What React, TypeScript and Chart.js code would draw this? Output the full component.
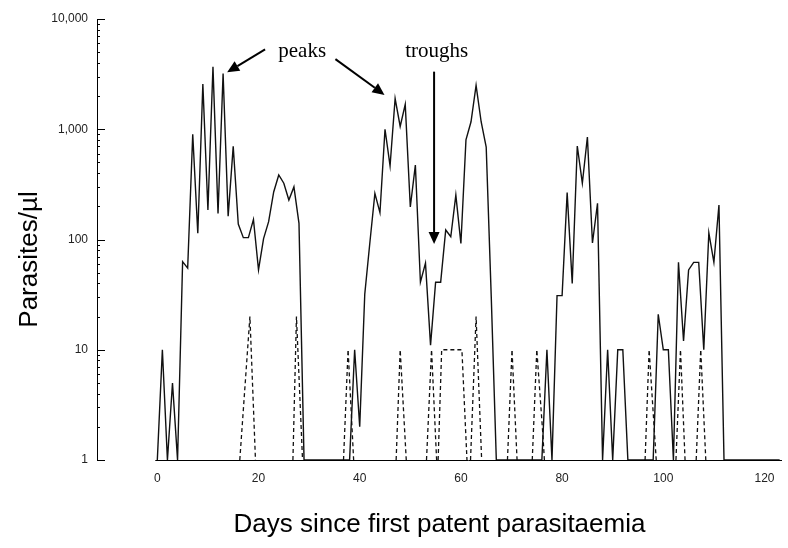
import React, { useEffect, useRef } from 'react';
import { Chart, registerables } from 'chart.js';

Chart.register(...registerables);

// Asexual parasites per µl, one value per day (index = day since first patent parasitaemia)
const solidValues: number[] = [
  1, 10, 1, 5, 1, 63, 55, 900, 114, 2570,
  185, 3690, 172, 3200, 163, 700, 138, 104, 104, 152,
  53, 102, 145, 270, 385, 324, 228, 300, 140, 1,
  1, 1, 1, 1, 1, 1, 1, 1, 1, 10,
  2, 32, 93, 262, 175, 1000, 465, 1900, 1060, 1680,
  197, 473, 41, 61, 11, 41, 41, 122, 106, 253,
  92, 800, 1170, 2500, 1170, 690, 30, 1, 1, 1,
  1, 1, 1, 1, 1, 1, 1, 10, 1, 31,
  31, 266, 40, 705, 324, 850, 93, 213, 1, 10,
  1, 10, 10, 1, 1, 1, 1, 1, 1, 21,
  10, 10, 1, 62, 12, 53, 62, 62, 10, 115,
  62, 205, 1, 1, 1, 1, 1, 1, 1, 1,
  1, 1, 1, 1,
];

// Gametocytes (dashed), episodes separated by null
const dashedDays: number[] = [
  16.3, 18.3, 19.4, 19.5,
  26.8, 27.5, 28.7, 28.8,
  36.8, 37.7, 38.8, 38.9,
  47.2, 48.0, 49.2, 49.3,
  53.2, 54.2, 55.2, 55.3,
  55.5, 56.2, 60.2, 61.2, 61.3,
  61.9, 63.0, 64.1, 64.2,
  69.2, 70.1, 71.1, 71.2,
  74.1, 75.0, 76.2, 76.5, 76.6,
  96.4, 97.2, 98.4, 98.6, 98.7,
  102.5, 103.4, 104.3, 104.4,
  106.5, 107.4, 108.4,
];
const dashedValues: (number | null)[] = [
  1, 20, 1, null,
  1, 20, 1, null,
  1, 10, 1, null,
  1, 10, 1, null,
  1, 10, 1, null,
  1, 10, 10, 1, null,
  1, 20, 1, null,
  1, 10, 1, null,
  1, 10, 1.7, 1, null,
  1, 10, 1.4, 1, null,
  1, 10, 1, null,
  1, 10, 1,
];

const xTickValues = [0, 20, 40, 60, 80, 100, 120];
const yTickValues = [1, 10, 100, 1000, 10000];
const baselineDays = [-0.4, 123.46];

const yTitle = 'Parasites/µl';
const xTitle = 'Days since first patent parasitaemia';

// Annotations in data space: [day, parasites/µl]
const annotationLabels = [
  { text: 'peaks', day: 23.9, value: 4500 },
  { text: 'troughs', day: 49.0, value: 4500 },
];
const annotationArrows = [
  { from: [21.3, 5300], to: [13.8, 3290] },
  { from: [35.2, 4330], to: [44.9, 2050] },
  { from: [54.7, 3330], to: [54.7, 91] },
];

const decorPlugin = {
  id: 'decor',
  afterDraw(chart: any) {
    const { ctx, chartArea, scales } = chart;
    const x = scales.x;
    const y = scales.y;
    ctx.save();
    ctx.strokeStyle = '#000';
    ctx.lineWidth = 1;
    const left = chartArea.left;
    // baseline at 1 parasite/µl
    const by0 = Math.round(y.getPixelForValue(1)) + 0.5;
    ctx.beginPath();
    ctx.moveTo(x.getPixelForValue(baselineDays[0]), by0);
    ctx.lineTo(x.getPixelForValue(baselineDays[1]), by0);
    ctx.stroke();
    // inner log ticks on the y axis
    for (let d = 1; d <= 10000; d *= 10) {
      const py = Math.round(y.getPixelForValue(d)) + 0.5;
      ctx.beginPath();
      ctx.moveTo(left, py);
      ctx.lineTo(left + 8, py);
      ctx.stroke();
      if (d < 10000) {
        for (let m = 2; m <= 9; m++) {
          const pm = Math.round(y.getPixelForValue(m * d)) + 0.5;
          ctx.beginPath();
          ctx.moveTo(left, pm);
          ctx.lineTo(left + 3, pm);
          ctx.stroke();
        }
      }
    }
    // y axis title
    ctx.fillStyle = '#000';
    ctx.font = '26px "Liberation Sans", Arial, sans-serif';
    ctx.textAlign = 'center';
    ctx.textBaseline = 'middle';
    ctx.save();
    ctx.translate(30, (chartArea.top + chartArea.bottom) / 2 + 20);
    ctx.rotate(-Math.PI / 2);
    ctx.fillText(yTitle, 0, 0);
    ctx.restore();
    // text annotations
    ctx.font = '21px "Liberation Serif", "Times New Roman", serif';
    ctx.textAlign = 'left';
    ctx.textBaseline = 'alphabetic';
    for (const a of annotationLabels) {
      ctx.fillText(a.text, x.getPixelForValue(a.day), y.getPixelForValue(a.value));
    }
    // arrows
    ctx.lineWidth = 2;
    for (const ar of annotationArrows) {
      const x1 = x.getPixelForValue(ar.from[0]);
      const y1 = y.getPixelForValue(ar.from[1]);
      const x2 = x.getPixelForValue(ar.to[0]);
      const y2 = y.getPixelForValue(ar.to[1]);
      const ang = Math.atan2(y2 - y1, x2 - x1);
      const headLen = 12;
      const headW = 5.5;
      const bx = x2 - headLen * Math.cos(ang);
      const by = y2 - headLen * Math.sin(ang);
      ctx.beginPath();
      ctx.moveTo(x1, y1);
      ctx.lineTo(bx, by);
      ctx.stroke();
      ctx.beginPath();
      ctx.moveTo(x2, y2);
      ctx.lineTo(bx + headW * Math.sin(ang), by - headW * Math.cos(ang));
      ctx.lineTo(bx - headW * Math.sin(ang), by + headW * Math.cos(ang));
      ctx.closePath();
      ctx.fill();
    }
    ctx.restore();
  },
};

export default function App() {
  const canvasRef = useRef<HTMLCanvasElement | null>(null);

  useEffect(() => {
    if (!canvasRef.current) return;
    const solidData = solidValues.map((v, i) => ({ x: i, y: v }));
    const dashedData = dashedDays.map((d, i) => ({ x: d, y: dashedValues[i] }));
    const chart = new Chart(canvasRef.current, {
      type: 'line',
      data: {
        datasets: [
          {
            label: 'Asexual parasites',
            data: solidData as any,
            borderColor: '#111',
            borderWidth: 1.4,
            pointRadius: 0,
            tension: 0,
            clip: false as any,
          },
          {
            label: 'Gametocytes',
            data: dashedData as any,
            borderColor: '#111',
            borderWidth: 1.3,
            borderDash: [4, 3],
            pointRadius: 0,
            tension: 0,
            spanGaps: false,
            clip: false as any,
          },
        ],
      },
      options: {
        animation: false,
        responsive: false,
        devicePixelRatio: 1,
        layout: { padding: { left: 0, right: 6, top: 19, bottom: 0 } },
        plugins: {
          legend: { display: false },
          tooltip: { enabled: false },
        },
        scales: {
          x: {
            type: 'linear',
            min: -11.92,
            max: 123.46,
            grid: { display: false, drawTicks: false },
            border: { display: false },
            afterFit: (s: any) => { s.height = 88; },
            afterBuildTicks: (s: any) => { s.ticks = xTickValues.map((v) => ({ value: v })); },
            ticks: {
              padding: 11,
              color: '#222',
              font: { family: '"Liberation Sans", Arial, sans-serif', size: 12 },
              callback: (v: any) => String(v),
            },
            title: {
              display: true,
              text: xTitle,
              color: '#000',
              font: { family: '"Liberation Sans", Arial, sans-serif', size: 26 },
              padding: { top: 0, bottom: 8 },
            },
          },
          y: {
            type: 'logarithmic',
            min: 1,
            max: 10000,
            grid: { display: false, drawTicks: false },
            border: { display: true, color: '#000', width: 1 },
            afterFit: (s: any) => { s.width = 97; },
            afterBuildTicks: (s: any) => { s.ticks = yTickValues.map((v) => ({ value: v })); },
            ticks: {
              padding: 9,
              color: '#222',
              font: { family: '"Liberation Sans", Arial, sans-serif', size: 12 },
              callback: (v: any) => Number(v).toLocaleString('en-US'),
            },
            title: { display: false, text: yTitle },
          },
        },
      },
      plugins: [decorPlugin],
    });
    return () => chart.destroy();
  }, []);

  return (
    <div style={{ position: 'absolute', left: 0, top: 0, width: 788, height: 548, background: '#fff' }}>
      <canvas ref={canvasRef} width={788} height={548} />
    </div>
  );
}
